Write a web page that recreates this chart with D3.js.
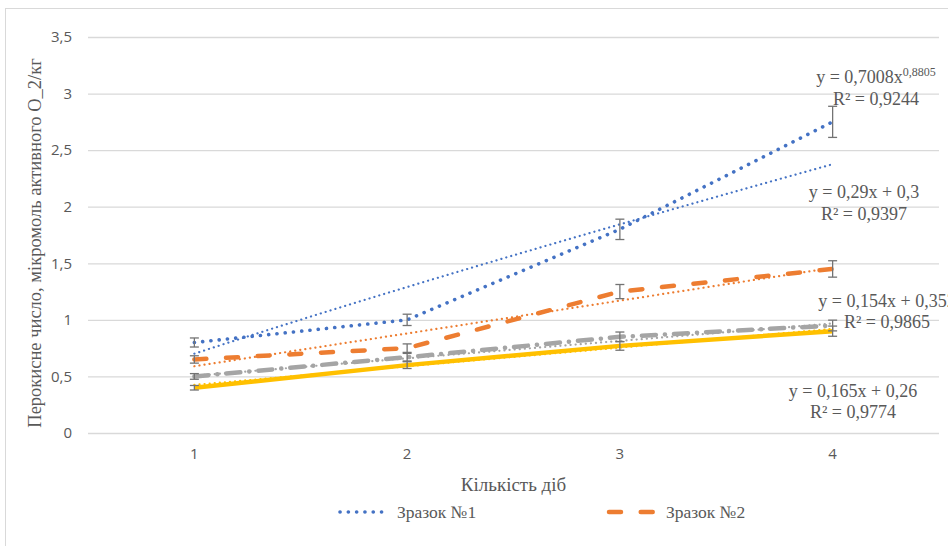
<!DOCTYPE html>
<html>
<head>
<meta charset="utf-8">
<script src="https://cdn.jsdelivr.net/npm/d3@7"></script>
<style>
  html, body { margin: 0; padding: 0; background: #fff; }
  svg { display: block; }
  .tick text { font-family: "Open Sans", "Liberation Sans", sans-serif; }
</style>
</head>
<body>
<div id="chart"></div>
<script>
  // chart data
  const days = [1, 2, 3, 4];
  const yTicks = [0, 0.5, 1, 1.5, 2, 2.5, 3, 3.5];
  const sample1 = [0.8, 1.0, 1.8, 2.75];
  const sample2 = [0.65, 0.75, 1.25, 1.45];
  const sample3 = [0.5, 0.67, 0.85, 0.95];
  const sample4 = [0.4, 0.6, 0.77, 0.9];
  const legendNames = ["Зразок №1", "Зразок №2"];
  const errorShare = 0.05;

  // trendlines as printed on the chart
  const trend1 = { type: "power", a: 0.7008, b: 0.8805, label: ["y = 0,7008x", "0,8805"], r2: "R² = 0,9244" };
  const trend2 = { type: "linear", a: 0.29, b: 0.3, label: ["y = 0,29x + 0,3"], r2: "R² = 0,9397" };
  const trend3 = { type: "linear", a: 0.154, b: 0.352, label: ["y = 0,154x + 0,352"], r2: "R² = 0,9865" };
  const trend4 = { type: "linear", a: 0.165, b: 0.26, label: ["y = 0,165x + 0,26"], r2: "R² = 0,9774" };

  const W = 948, H = 546;
  const margin = { top: 37, right: 9, bottom: 113, left: 88 };
  const width = W - margin.left - margin.right;
  const height = H - margin.top - margin.bottom;
  const grey = "#595959";
  const serif = "'Liberation Serif', 'DejaVu Serif', serif";

  const svg = d3.select("#chart").append("svg")
    .attr("width", W).attr("height", H);

  // outer chart frame
  svg.append("rect")
    .attr("x", 5.5).attr("y", 8.5)
    .attr("width", W).attr("height", H)
    .attr("fill", "none").attr("stroke", "#d9d9d9");

  const g = svg.append("g").attr("transform", `translate(${margin.left},${margin.top})`);

  const x = d3.scaleBand().domain(days).range([0, width]);
  const xc = (d) => x(d) + x.bandwidth() / 2;
  const y = d3.scaleLinear().domain([0, 3.5]).range([height, 0]);

  // gridlines + y axis
  const yAxis = g.append("g")
    .call(d3.axisLeft(y).tickValues(yTicks).tickSize(-width).tickPadding(16)
      .tickFormat((d) => String(d).replace(".", ",")));
  yAxis.select(".domain").remove();
  yAxis.selectAll(".tick line").attr("stroke", "#d9d9d9").attr("stroke-width", 1.3);
  yAxis.selectAll(".tick text").attr("fill", grey).attr("font-size", 15);

  const xAxis = g.append("g")
    .attr("transform", `translate(0,${height})`)
    .call(d3.axisBottom(x).tickSize(0).tickPadding(15));
  xAxis.select(".domain").remove();
  xAxis.selectAll(".tick text").attr("fill", grey).attr("font-size", 15);

  // axis titles
  svg.append("text")
    .attr("x", margin.left + width / 2).attr("y", 491)
    .attr("text-anchor", "middle")
    .attr("font-family", serif).attr("font-size", 19).attr("fill", grey)
    .text("Кількість діб");

  svg.append("text")
    .attr("transform", `translate(41,${margin.top + height / 2 + 8}) rotate(-90)`)
    .attr("text-anchor", "middle")
    .attr("font-family", serif).attr("font-size", 18.5).attr("fill", grey)
    .text("Перокисне число, мікромоль активного О_2/кг");

  const line = d3.line().x((d) => xc(d.x)).y((d) => y(d.y));
  const toPoints = (vals) => vals.map((v, i) => ({ x: days[i], y: v }));

  function trendPoints(t) {
    const pts = [];
    for (let i = 0; i <= 60; i++) {
      const xv = 1 + (i / 60) * 3;
      const yv = t.type === "power" ? t.a * Math.pow(xv, t.b) : t.a * xv + t.b;
      pts.push({ x: xv, y: yv });
    }
    return pts;
  }
  // trend x values are continuous, map between category centres
  const xLin = d3.scaleLinear().domain([1, 4]).range([xc(1), xc(4)]);
  const trendLine = d3.line().x((d) => xLin(d.x)).y((d) => y(d.y));

  const series = [
    { vals: sample4, trend: trend4, color: "#FFC000", w: 4.5, dash: null },
    { vals: sample3, trend: trend3, color: "#A5A5A5", w: 4.5, dash: "14 9 0.1 9" },
    { vals: sample2, trend: trend2, color: "#ED7D31", w: 4.5, dash: "12 19.7" },
    { vals: sample1, trend: trend1, color: "#4472C4", w: 3.6, dash: "0.1 8.2" }
  ];

  series.forEach((s) => {
    g.append("path")
      .attr("d", line(toPoints(s.vals)))
      .attr("fill", "none").attr("stroke", s.color)
      .attr("stroke-width", s.w)
      .attr("stroke-linecap", s.dash ? "round" : "butt")
      .attr("stroke-dasharray", s.dash);

    g.append("path")
      .attr("d", trendLine(trendPoints(s.trend)))
      .attr("fill", "none").attr("stroke", s.color)
      .attr("stroke-width", 2.2)
      .attr("stroke-linecap", "round")
      .attr("stroke-dasharray", "0.1 5");

    // error bars
    const eb = g.append("g").attr("stroke", "#737373").attr("stroke-width", 1.3);
    s.vals.forEach((v, i) => {
      const cx = xc(days[i]);
      const e = v * errorShare;
      eb.append("line").attr("x1", cx).attr("x2", cx).attr("y1", y(v - e)).attr("y2", y(v + e));
      eb.append("line").attr("x1", cx - 4.5).attr("x2", cx + 4.5).attr("y1", y(v - e)).attr("y2", y(v - e));
      eb.append("line").attr("x1", cx - 4.5).attr("x2", cx + 4.5).attr("y1", y(v + e)).attr("y2", y(v + e));
    });
  });

  // trendline equations
  const eqPos = [
    { t: trend1, cx: 876, y1: 83, y2: 105 },
    { t: trend2, cx: 864, y1: 198, y2: 220 },
    { t: trend3, cx: 887, y1: 307, y2: 328 },
    { t: trend4, cx: 853, y1: 397, y2: 418 }
  ];
  eqPos.forEach((p) => {
    const t1 = svg.append("text")
      .attr("x", p.cx).attr("y", p.y1)
      .attr("text-anchor", "middle")
      .attr("font-family", serif).attr("font-size", 18).attr("fill", grey)
      .text(p.t.label[0]);
    if (p.t.label[1]) {
      t1.append("tspan").attr("font-size", 12).attr("dy", -7).text(p.t.label[1]);
    }
    svg.append("text")
      .attr("x", p.cx).attr("y", p.y2)
      .attr("text-anchor", "middle")
      .attr("font-family", serif).attr("font-size", 18).attr("fill", grey)
      .text(p.t.r2);
  });

  // legend (only first two entries fit)
  const legend = svg.append("g").attr("transform", "translate(0,512)");
  const legendStyle = [
    { x: 340, color: "#4472C4", w: 3.6, dash: "0.1 8.2" },
    { x: 609, color: "#ED7D31", w: 4.5, dash: "12 19.7" }
  ];
  legendNames.forEach((name, i) => {
    const st = legendStyle[i];
    legend.append("line")
      .attr("x1", st.x).attr("x2", st.x + 46)
      .attr("stroke", st.color).attr("stroke-width", st.w)
      .attr("stroke-linecap", "round").attr("stroke-dasharray", st.dash);
    legend.append("text")
      .attr("x", st.x + 57).attr("y", 6)
      .attr("font-family", serif).attr("font-size", 17.5).attr("fill", grey)
      .text(name);
  });
</script>
</body>
</html>
